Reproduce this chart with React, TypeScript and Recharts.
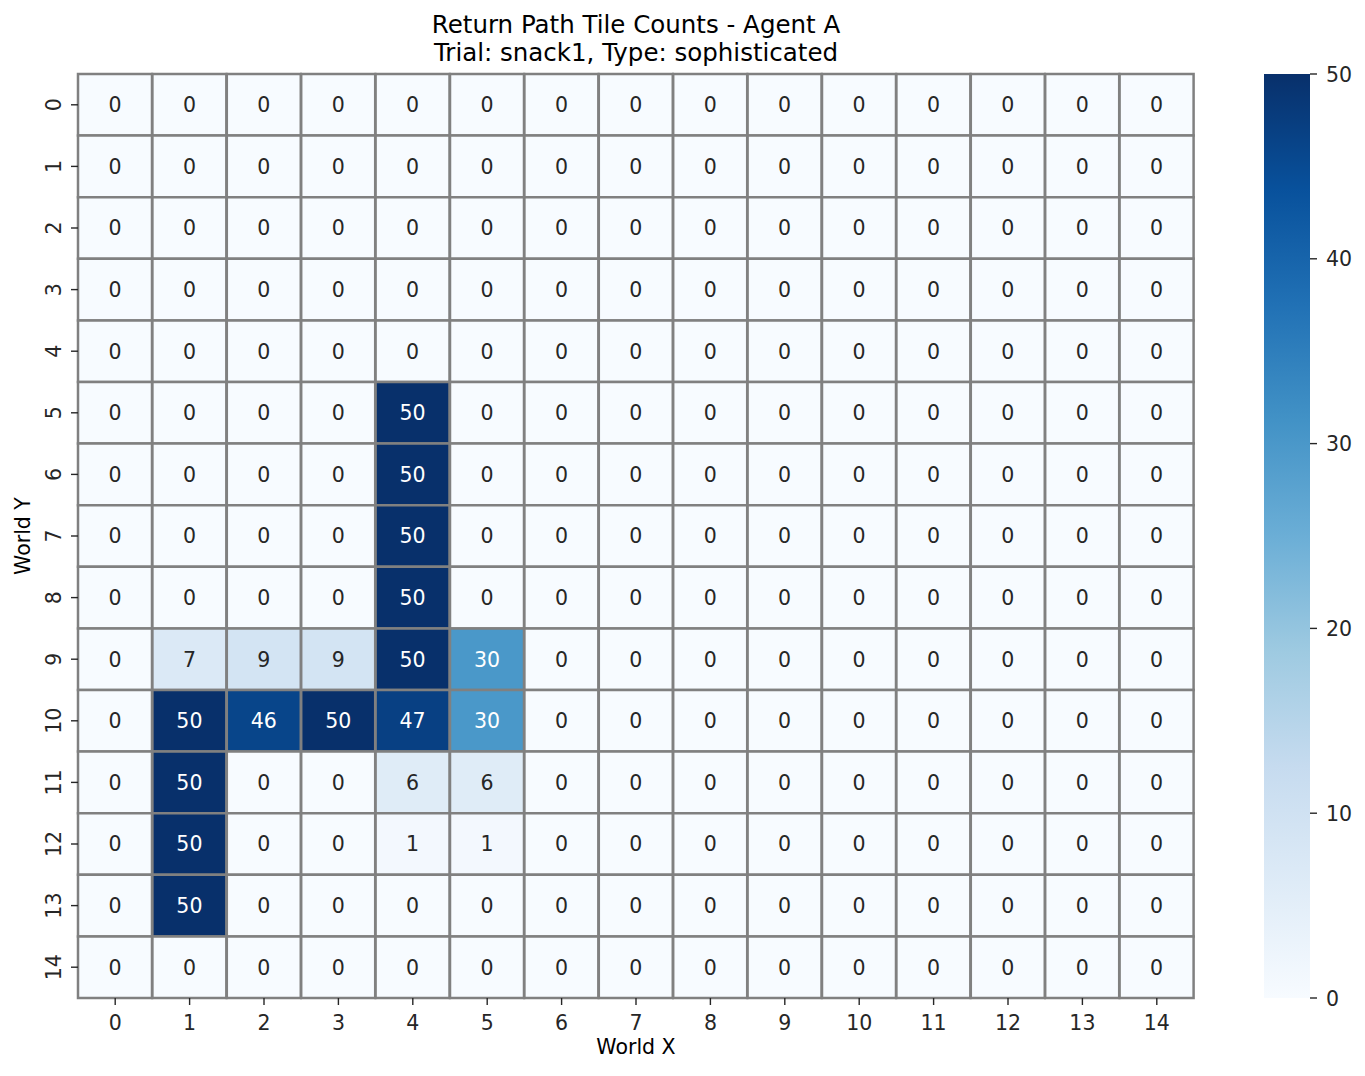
import { Bar, BarChart, Cell, LabelList, XAxis, YAxis } from "recharts";

const xLabels = ["0", "1", "2", "3", "4", "5", "6", "7", "8", "9", "10", "11", "12", "13", "14"];
const yLabels = ["0", "1", "2", "3", "4", "5", "6", "7", "8", "9", "10", "11", "12", "13", "14"];

// tile counts, one array per World Y row
const counts = [
  [0, 0, 0, 0, 0, 0, 0, 0, 0, 0, 0, 0, 0, 0, 0],
  [0, 0, 0, 0, 0, 0, 0, 0, 0, 0, 0, 0, 0, 0, 0],
  [0, 0, 0, 0, 0, 0, 0, 0, 0, 0, 0, 0, 0, 0, 0],
  [0, 0, 0, 0, 0, 0, 0, 0, 0, 0, 0, 0, 0, 0, 0],
  [0, 0, 0, 0, 0, 0, 0, 0, 0, 0, 0, 0, 0, 0, 0],
  [0, 0, 0, 0, 50, 0, 0, 0, 0, 0, 0, 0, 0, 0, 0],
  [0, 0, 0, 0, 50, 0, 0, 0, 0, 0, 0, 0, 0, 0, 0],
  [0, 0, 0, 0, 50, 0, 0, 0, 0, 0, 0, 0, 0, 0, 0],
  [0, 0, 0, 0, 50, 0, 0, 0, 0, 0, 0, 0, 0, 0, 0],
  [0, 7, 9, 9, 50, 30, 0, 0, 0, 0, 0, 0, 0, 0, 0],
  [0, 50, 46, 50, 47, 30, 0, 0, 0, 0, 0, 0, 0, 0, 0],
  [0, 50, 0, 0, 6, 6, 0, 0, 0, 0, 0, 0, 0, 0, 0],
  [0, 50, 0, 0, 1, 1, 0, 0, 0, 0, 0, 0, 0, 0, 0],
  [0, 50, 0, 0, 0, 0, 0, 0, 0, 0, 0, 0, 0, 0, 0],
  [0, 0, 0, 0, 0, 0, 0, 0, 0, 0, 0, 0, 0, 0, 0],
];

const colorbarTicks = [0, 10, 20, 30, 40, 50];
const VMAX = 50;

// matplotlib "Blues"
const BLUES = ["#f7fbff", "#deebf7", "#c6dbef", "#9ecae1", "#6baed6", "#4292c6", "#2171b5", "#08519c", "#08306b"];

const FONT = "'DejaVu Sans', sans-serif";
const TICK_COLOR = "#262626";

function hexToRgb(h: string) {
  return [parseInt(h.slice(1, 3), 16), parseInt(h.slice(3, 5), 16), parseInt(h.slice(5, 7), 16)];
}

function bluesRgb(v: number) {
  const t = Math.max(0, Math.min(1, v / VMAX)) * (BLUES.length - 1);
  const i = Math.min(Math.floor(t), BLUES.length - 2);
  const f = t - i;
  const a = hexToRgb(BLUES[i]);
  const b = hexToRgb(BLUES[i + 1]);
  return a.map((c, k) => Math.round(c + (b[k] - c) * f));
}

function bluesColor(v: number) {
  const [r, g, b] = bluesRgb(v);
  return `rgb(${r},${g},${b})`;
}

// same rule seaborn uses for annotation colour
function textColor(v: number) {
  const lin = bluesRgb(v).map((c) => {
    const s = c / 255;
    return s <= 0.03928 ? s / 12.92 : Math.pow((s + 0.055) / 1.055, 2.4);
  });
  const lum = 0.2126 * lin[0] + 0.7152 * lin[1] + 0.0722 * lin[2];
  return lum > 0.408 ? "#262626" : "#ffffff";
}

const data = xLabels.map((label, col) => {
  const row: Record<string, number | string> = { x: label };
  counts.forEach((r, ri) => {
    row[`r${ri}`] = 1;
    row[`c${ri}`] = r[col];
  });
  return row;
});

const XTick = (props: any) => {
  const { x, y, payload } = props;
  return (
    <text x={x} y={y + 14.5} textAnchor="middle" fontSize={20.5} fontFamily={FONT} fill={TICK_COLOR}>
      {payload.value}
    </text>
  );
};

const YTick = (props: any) => {
  const { x, y, payload } = props;
  const tx = x - 10;
  return (
    <text
      x={tx}
      y={y}
      textAnchor="middle"
      fontSize={20.5}
      fontFamily={FONT}
      fill={TICK_COLOR}
      transform={`rotate(-90 ${tx} ${y})`}
    >
      {yLabels[Math.floor(payload.value)]}
    </text>
  );
};

const CbarTick = (props: any) => {
  const { x, y, payload } = props;
  return (
    <text x={x + 9} y={y + 7.5} textAnchor="start" fontSize={20.5} fontFamily={FONT} fill={TICK_COLOR}>
      {payload.value}
    </text>
  );
};

const cellLabel = (props: any) => {
  const { x, y, width, height, value } = props;
  return (
    <text
      x={x + width / 2}
      y={y + height / 2 + 7.4}
      textAnchor="middle"
      fontSize={20.5}
      fontFamily={FONT}
      fill={textColor(value)}
    >
      {value}
    </text>
  );
};

export default function App() {
  return (
    <div style={{ position: "absolute", left: 0, top: 0, width: 1365, height: 1076, background: "#fff", fontFamily: FONT }}>
      <svg width={0} height={0} style={{ position: "absolute" }}>
        <defs>
          <linearGradient id="bluesGrad" x1="0" y1="1" x2="0" y2="0">
            {BLUES.map((c, i) => (
              <stop key={c} offset={i / (BLUES.length - 1)} stopColor={c} />
            ))}
          </linearGradient>
        </defs>
      </svg>

      <div style={{ position: "absolute", left: 0, top: 0, width: 1272, textAlign: "center", fontSize: 24.5, lineHeight: "28px", color: "#000", paddingTop: 11 }}>
        <div>Return Path Tile Counts - Agent A</div>
        <div>Trial: snack1, Type: sophisticated</div>
      </div>

      <div style={{ position: "absolute", left: 0, top: 0 }}>
        <BarChart
          width={1365}
          height={1076}
          data={data}
          margin={{ top: 74, right: 171, bottom: 0, left: 0 }}
          barCategoryGap={0}
          barGap={0}
        >
          <XAxis
            dataKey="x"
            height={78}
            axisLine={false}
            tickSize={7}
            tickLine={{ stroke: TICK_COLOR, strokeWidth: 1.4 }}
            tickMargin={10}
            tick={<XTick />}
            interval={0}
          />
          <YAxis
            type="number"
            width={78}
            domain={[0, 15]}
            reversed
            ticks={yLabels.map((_, i) => i + 0.5)}
            axisLine={false}
            tickSize={7}
            tickLine={{ stroke: TICK_COLOR, strokeWidth: 1.4 }}
            tickMargin={0}
            tick={<YTick />}
            interval={0}
          />
          {counts.map((row, ri) => (
            <Bar
              key={`r${ri}`}
              dataKey={`r${ri}`}
              stackId="grid"
              stroke="#808080"
              strokeWidth={2.5}
              isAnimationActive={false}
            >
              {row.map((v, ci) => (
                <Cell key={`cell-${ri}-${ci}`} fill={bluesColor(v)} />
              ))}
              <LabelList dataKey={`c${ri}`} content={cellLabel} />
            </Bar>
          ))}
        </BarChart>
      </div>

      <div style={{ position: "absolute", left: 1264, top: 62 }}>
        <BarChart
          width={110}
          height={948}
          data={[{ name: "cbar", v: VMAX }]}
          margin={{ top: 12, right: 0, bottom: 12, left: 0 }}
          barCategoryGap={0}
        >
          <XAxis dataKey="name" hide />
          <YAxis
            orientation="right"
            type="number"
            width={64}
            domain={[0, VMAX]}
            ticks={colorbarTicks}
            axisLine={false}
            tickSize={7}
            tickLine={{ stroke: TICK_COLOR, strokeWidth: 1.4 }}
            tickMargin={0}
            tick={<CbarTick />}
            interval={0}
          />
          <Bar dataKey="v" fill="url(#bluesGrad)" isAnimationActive={false} />
        </BarChart>
      </div>

      <div style={{ position: "absolute", left: 586, top: 1035, width: 100, textAlign: "center", fontSize: 20.5, color: "#000", whiteSpace: "nowrap" }}>
        World X
      </div>
      <div
        style={{
          position: "absolute",
          left: 23,
          top: 536,
          fontSize: 20.5,
          color: "#000",
          whiteSpace: "nowrap",
          transform: "translate(-50%, -50%) rotate(-90deg)",
        }}
      >
        World Y
      </div>
    </div>
  );
}
